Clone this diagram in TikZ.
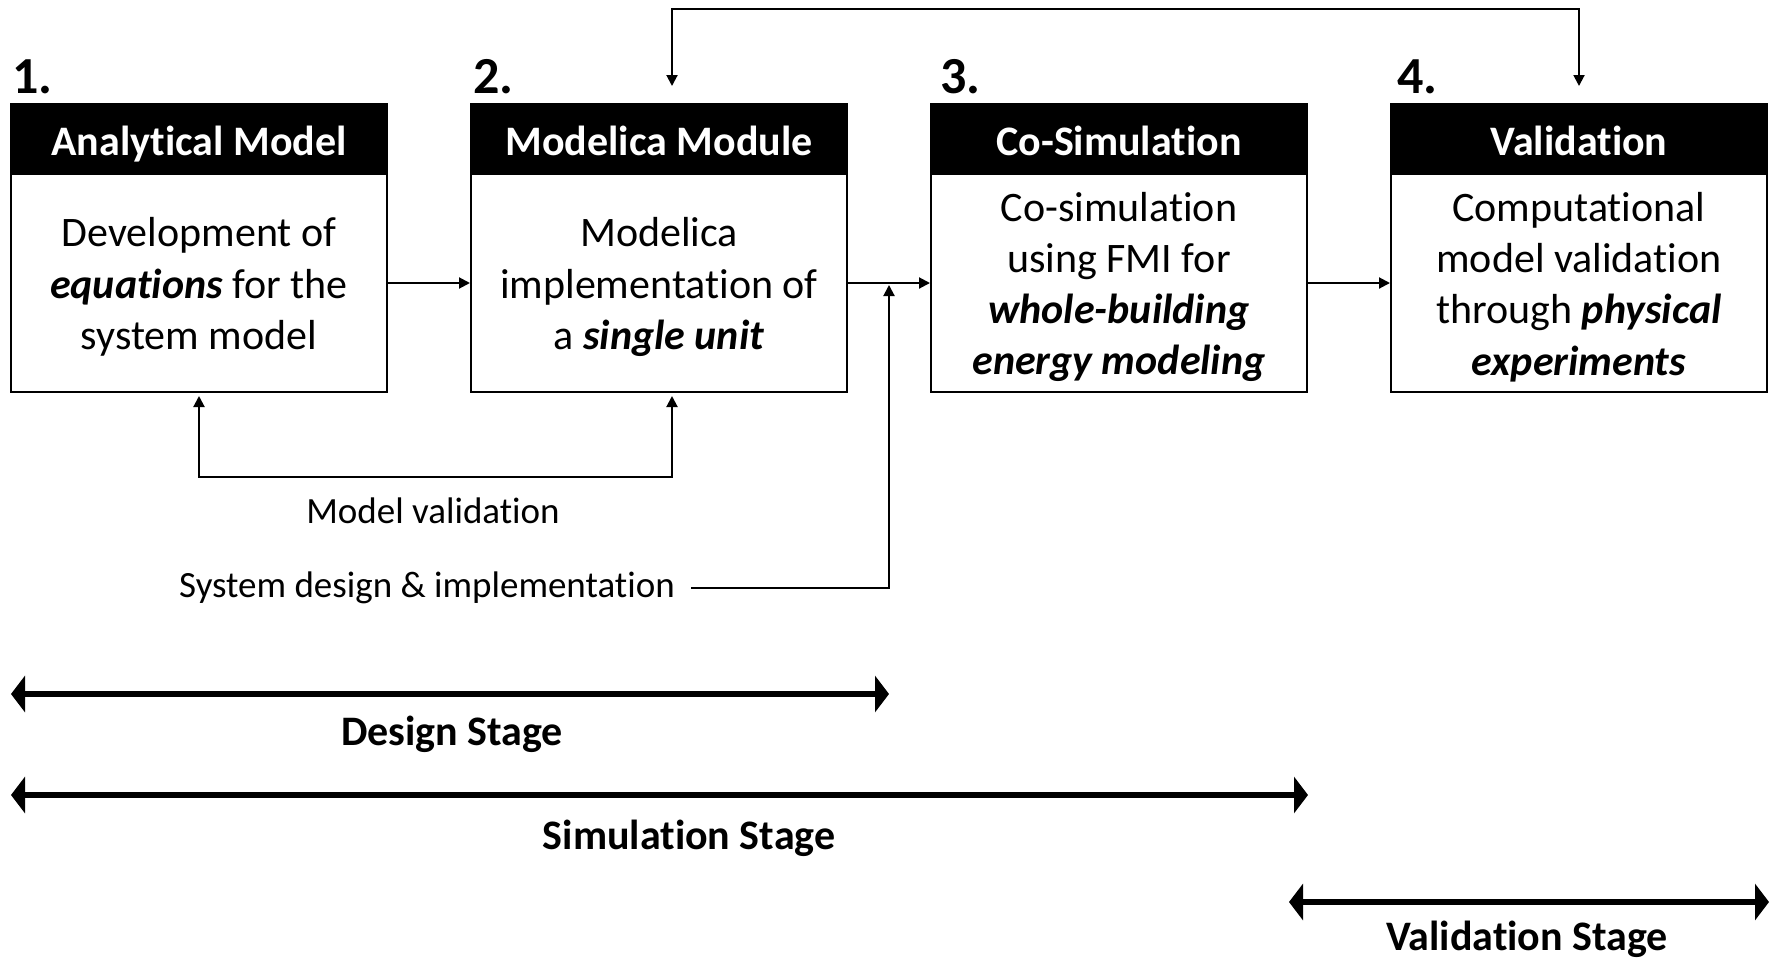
\documentclass[tikz,border=0pt]{standalone}
\usepackage{fontspec}
\setmainfont[Ligatures=NoCommon,Contextuals=NoAlternate]{Carlito}
\usetikzlibrary{arrows.meta,calc}

\tikzset{
  hdr/.style={draw=black, fill=black, line width=2pt,
    minimum width=376pt, minimum height=70pt, inner sep=0pt},
  hdrtext/.style={anchor=base, text=white, inner sep=0pt,
    font=\bfseries\fontsize{42}{51}\selectfont},
  bodybox/.style={draw=black, line width=2pt,
    minimum width=376pt, minimum height=218pt, inner sep=0pt},
  bodytext/.style={align=center, inner sep=0pt,
    font=\fontsize{42}{51.3}\selectfont},
  numlabel/.style={anchor=base west, inner sep=0pt,
    font=\bfseries\fontsize{52}{60}\selectfont},
  note/.style={inner sep=0pt, font=\fontsize{37}{44}\selectfont},
  stagelabel/.style={inner sep=0pt, font=\bfseries\fontsize{42}{50}\selectfont},
  conn/.style={line width=2pt, -{Triangle[length=11pt,width=11pt]}},
  twoway/.style={line width=2pt, {Triangle[length=11pt,width=11pt]}-{Triangle[length=11pt,width=11pt]}},
  stage/.style={line width=6pt,
    {Triangle[length=14pt,width=36pt]}-{Triangle[length=14pt,width=36pt]}},
}
\newcommand{\bi}[1]{\textbf{\textit{#1}}}

\begin{document}
\begin{tikzpicture}[x=1pt,y=-1pt]
\useasboundingbox (0,0) rectangle (1771,958);

% step boxes: black title bar above a framed description
\node[hdr] (h1) at (199,139) {};
\node[hdrtext] (t1) at (199,155) {Analytical Model};
\node[bodybox] (b1) at (199,283) {};
\node[bodytext] (d1) at ([yshift=-4pt]b1.center) {Development of\\\bi{equations} for the\\system model};

\node[hdr] (h2) at (659,139) {};
\node[hdrtext] (t2) at (659,155) {Modelica Module};
\node[bodybox] (b2) at (659,283) {};
\node[bodytext] (d2) at ([yshift=-4pt]b2.center) {Modelica\\implementation of\\a \bi{single unit}};

\node[hdr] (h3) at (1119,139) {};
\node[hdrtext] (t3) at (1119,155) {Co-Simulation};
\node[bodybox] (b3) at (1119,283) {};
\node[bodytext] (d3) at ([yshift=-4pt]b3.center) {Co-simulation\\using FMI for\\\bi{whole-building}\\\bi{energy modeling}};

\node[hdr] (h4) at (1579,139) {};
\node[hdrtext] (t4) at (1579,155) {Validation};
\node[bodybox] (b4) at (1579,283) {};
\node[bodytext] (d4) at ([yshift=-4pt]b4.center) {Computational\\model validation\\through \bi{physical}\\\bi{experiments}};

% step numbers
\node[numlabel] (n1) at (12,93) {1.};
\node[numlabel] (n2) at (473,93) {2.};
\node[numlabel] (n3) at (940,93) {3.};
\node[numlabel] (n4) at (1397,93) {4.};

% main flow
\coordinate (j) at (889,283);
\draw[conn] (b1.east) -- (b2.west);
\draw[line width=2pt] (b2.east) -- (j);
\draw[conn] (j) -- (b3.west);
\draw[conn] (b3.east) -- (b4.west);

% loop from the Modelica module to the validation step
\coordinate (a2) at (672,86);
\coordinate (a4) at (1579,86);
\draw[twoway] (a2) -- (672,9) -- (1579,9) -- (a4);

% model validation loop
\coordinate (f1) at (199,396);
\coordinate (f2) at (672,396);
\draw[twoway] (f1) -- (199,477) -- (672,477) -- (f2);
\node[note] (mv) at (433,511) {Model validation};

% system design input
\node[note] (sd) at (427,588) {System design \& implementation};
\coordinate (jin) at (889,285);
\draw[conn] ([xshift=16pt]sd.east) -| (jin);

% stage spans
\coordinate (ds1) at (11,694);
\coordinate (ds2) at (889,694);
\draw[stage] (ds1) -- (ds2);
\node[stagelabel] (dl) at (452,734) {Design Stage};

\coordinate (ss1) at (11,795);
\coordinate (ss2) at (1308,795);
\draw[stage] (ss1) -- (ss2);
\node[stagelabel] (sl) at (689,838) {Simulation Stage};

\coordinate (vs1) at (1289,902);
\coordinate (vs2) at (1769,902);
\draw[stage] (vs1) -- (vs2);
\node[stagelabel] (vl) at (1527,939) {Validation Stage};
\end{tikzpicture}
\end{document}
